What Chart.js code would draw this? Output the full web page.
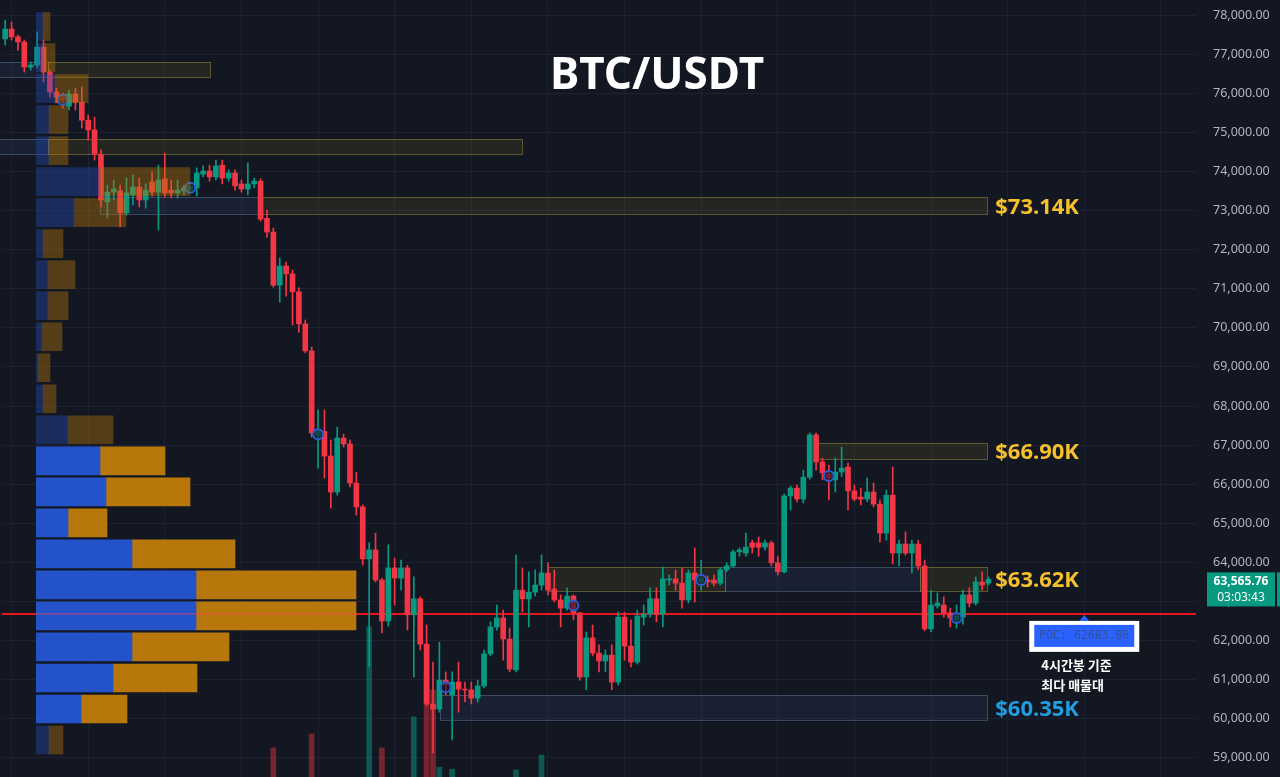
<!DOCTYPE html>
<html lang="ko">
<head>
<meta charset="UTF-8">
<title>BTC/USDT</title>
<script src="https://cdn.jsdelivr.net/npm/chart.js@4.4.0/dist/chart.umd.min.js"></script>
<style>
  html, body { margin: 0; padding: 0; background: #131722; }
  #wrap { position: relative; width: 1280px; height: 777px; overflow: hidden; }
  #main { position: absolute; left: 0; top: 0; }
  #profile { position: absolute; left: 36px; top: 0; pointer-events: none; }
</style>
</head>
<body>
<div id="wrap">
  <canvas id="main" width="1280" height="777"></canvas>
  <canvas id="profile" width="400" height="777"></canvas>
</div>
<script>
// 4h candles, oldest first
const candleOpen = [77390,77640,77440,77310,76670,76720,77180,76540,76030,75900,75670,75980,75770,75310,75060,74440,73220,73470,73500,72940,
  73400,73600,73270,73730,73470,73810,73520,73450,73500,73520,73580,73930,74010,73860,74160,73830,73960,73680,73550,73680,
  73750,72800,72450,71090,71580,71380,70920,70100,69410,67230,67350,66720,65800,67180,67030,66030,65420,64090,64320,63550,
  62500,63860,63600,63860,62660,63070,61910,60380,60250,60990,60610,60940,60760,60740,60530,60840,61660,62350,62580,62040,
  61250,63290,63070,63240,63420,63730,63320,63040,62830,63140,62710,61070,62070,61680,61480,61630,60940,62600,61860,61450,
  62600,62680,63070,62680,63550,63580,63470,63040,63730,63500,63550,63550,63470,63810,63910,64270,64240,64500,64500,64390,
  64500,63990,63760,65700,65900,65620,66180,67260,66570,66260,66110,66310,66440,65830,65670,65620,65800,65490,64750,65720,
  64240,64470,64240,64470,63910,62300,62890,62910,62710,62530,62600,63170,62960,63500,63470];
const candleHigh = [77870,77820,77490,77360,76800,77570,77360,76590,76130,76000,76080,76130,76160,75440,75390,74550,73650,73780,73650,73830,
  73910,73830,73680,73990,74160,74470,73780,73780,73650,73700,74090,74140,74160,74290,74290,74040,74040,73780,74220,73830,
  73810,73010,72550,71790,71680,71480,71020,70200,69510,67900,67900,67130,67460,67280,67130,66310,65470,64500,64750,63600,
  64450,64110,64060,63930,63630,63120,62400,61450,61960,61200,61200,61450,60940,60940,60990,61760,62480,62910,62780,62320,
  64190,63860,63760,63810,64190,63990,63810,63170,63350,63170,62720,62220,62400,61890,61760,61890,62730,62730,62530,62780,
  62910,63350,63350,63880,63680,63810,63860,63810,64370,64060,63650,63680,63860,63990,64320,64370,64750,64570,64650,64570,
  64550,64160,65750,65950,65980,66360,67310,67310,66670,66490,66670,66950,66540,65980,65900,66160,66030,65600,65850,66440,
  64570,64780,64570,64570,64060,63290,63220,63120,62830,62910,63290,63350,63630,63760,63630];
const candleLow = [77230,77360,77100,76540,76590,76650,76290,75900,75750,75620,75570,75570,75110,74800,74290,73090,72810,73270,72580,72880,
  73140,73090,73060,73370,72500,73340,73320,73320,73400,73470,73370,73860,73750,73780,73680,73750,73520,73470,73400,73580,
  72730,72320,71040,70660,70810,70070,69890,69360,67210,66410,66160,65390,65720,66950,65930,65210,63930,61330,63500,62200,
  62370,62910,63290,62270,61070,61760,60330,59130,60170,60610,59460,60170,60430,60380,60430,60790,61610,62270,61500,61200,
  61200,62730,62350,63140,63290,63170,62990,62350,62780,62530,60990,60740,61610,61200,61200,60740,60870,61500,61330,61400,
  62400,62600,62480,62350,63420,63290,62830,62960,62990,63290,63370,63400,63420,63760,63880,64160,64160,64240,64160,64320,
  63910,63680,63730,65340,65550,65520,66130,66360,66110,65600,65800,66200,65340,65570,65470,65550,65420,64520,64570,63960,
  63910,64190,63730,63810,62250,62220,62830,62600,62350,62320,62420,62860,62910,63290,63420];
const candleClose = [77640,77440,77310,76670,76720,77180,76540,76030,75900,75830,75980,75770,75310,75060,74440,73270,73470,73550,72940,73450,
  73600,73270,73520,73470,73780,73450,73450,73520,73580,73630,73960,74010,73860,74140,73830,73960,73630,73550,73680,73750,
  72780,72450,71090,71580,71380,70920,70100,69410,67310,67390,66720,65800,67180,67030,66030,65420,64090,64320,63550,62500,
  63860,63600,63860,62660,63070,61910,60380,60250,60990,60870,60940,60760,60740,60530,60840,61660,62350,62580,62040,61270,
  63290,63070,63240,63420,63730,63290,63040,62830,63140,62710,61070,62070,61680,61480,61630,60940,62600,61860,61450,62630,
  62680,63070,62680,63580,63580,63470,63040,63730,63550,63600,63500,63470,63810,63910,64270,64320,64390,64390,64390,64500,
  63990,63760,65700,65900,65620,66180,67260,66570,66290,66160,66310,66410,65830,65620,65620,65800,65490,64750,65720,64240,
  64470,64240,64470,63910,62300,62910,62960,62710,62580,62630,63170,62960,63500,63420,63565.76];

// only the volume bars that reach into the visible pane
const volumeIndex = [42, 48, 57, 59, 64, 66, 67, 68, 70, 80, 84];
const volumeValue = [560, 830, 2900, 560, 1160, 2010, 1680, 190, 150, 135, 425];

// swing pivot markers
const markerIndex = [9, 29, 49, 69, 89, 109, 129, 149];
const markerPrice = [75830, 73580, 67280, 60810, 62900, 63550, 66210, 62580];

// supply / demand zones (candle index range, price range)
const zoneFrom = [-1, 6.7, -1, 6.7, 14.8, 40.2, 126.8, 85.0, 112.7, 143.3, 68.1];
const zoneTo   = [6.7, 32.1, 6.7, 80.9, 40.2, 153.8, 153.8, 112.7, 143.3, 153.8, 153.8];
const zoneLow  = [76410, 76410, 74440, 74440, 72910, 72910, 66640, 63270, 63270, 63270, 59970];
const zoneHigh = [76800, 76800, 74830, 74830, 73340, 73340, 67050, 63880, 63880, 63880, 60610];
const zoneKind = ['demand','supply','demand','supply','demand','supply','supply','supply','demand','supply','demand'];

const labelZone  = [5, 6, 9, 10];
const labelText  = ['$73.14K', '$66.90K', '$63.62K', '$60.35K'];
const labelColor = ['#f5c02b', '#f5c02b', '#f5c02b', '#1f9de0'];

// volume profile rows
const profilePrice = [77706,76913,76119,75326,74532,73739,72946,72152,71359,70565,69772,68979,
  68185,67392,66598,65805,65011,64218,63425,62631,61838,61045,60251,59458];
const profileBuy  = [7,7,19,13,13,64,38,7,12,12,6,2,7,32,64,70,32,96,160,160,96,77,45,13];
const profileSell = [7,12,33,19,19,90,52,20,27,20,20,12,13,45,65,84,39,103,160,160,97,84,46,14];
const valueAreaLow = 59900, valueAreaHigh = 67000;

const pocPrice = 62683.86;
const pocIndex = 169;
const countdown = '03:03:43';

const yTicks = [59000,60000,61000,62000,63000,64000,65000,66000,67000,68000,69000,
  70000,71000,72000,73000,74000,75000,76000,77000,78000];
const yMin = 58512, yMax = 78384;
const totalSlots = 187;
const categories = [];
for (let i = 0; i < totalSlots; i++) categories.push(String(i + 1));

const up = '#089981', down = '#f23645';
const candleColors = candleClose.map((c, i) => c >= candleOpen[i] ? up : down);
const bodyData = candleOpen.map((o, i) => [o, candleClose[i]]);
const wickData = candleLow.map((l, i) => [l, candleHigh[i]]);

const volumeData = candleOpen.map(() => null);
const volumeColors = candleColors.map(c => c === up ? 'rgba(8,153,129,0.5)' : 'rgba(242,54,69,0.45)');
volumeIndex.forEach((idx, k) => { volumeData[idx] = volumeValue[k]; });

const markerData = candleOpen.map(() => null);
markerIndex.forEach((idx, k) => { markerData[idx] = markerPrice[k]; });

function fmt(v) {
  return v.toLocaleString('en-US', {minimumFractionDigits: 2, maximumFractionDigits: 2});
}

const overlay = {
  id: 'overlay',
  beforeDraw(chart) {
    const c = chart.ctx;
    c.save();
    c.fillStyle = '#131722';
    c.fillRect(0, 0, chart.width, chart.height);
    c.restore();
  },
  beforeDatasetsDraw(chart) {
    const c = chart.ctx, x = chart.scales.x, y = chart.scales.y, area = chart.chartArea;
    c.save();
    for (let i = 0; i < zoneLow.length; i++) {
      const x0 = x.getPixelForValue(zoneFrom[i]), x1 = x.getPixelForValue(zoneTo[i]);
      const y0 = y.getPixelForValue(zoneHigh[i]), y1 = y.getPixelForValue(zoneLow[i]);
      if (zoneKind[i] === 'supply') {
        c.fillStyle = 'rgba(110,100,30,0.2)';
        c.strokeStyle = 'rgba(140,130,60,0.6)';
      } else {
        c.fillStyle = 'rgba(60,90,140,0.14)';
        c.strokeStyle = 'rgba(100,120,150,0.5)';
      }
      c.fillRect(x0, y0, x1 - x0, y1 - y0);
      c.lineWidth = 1;
      c.strokeRect(Math.round(x0) + 0.5, Math.round(y0) + 0.5, Math.round(x1 - x0), Math.round(y1 - y0));
    }
    // POC line
    const py = y.getPixelForValue(pocPrice);
    c.strokeStyle = '#e8151f';
    c.lineWidth = 2;
    c.beginPath();
    c.moveTo(area.left, py);
    c.lineTo(area.right, py);
    c.stroke();
    c.restore();
  },
  afterDatasetsDraw(chart) {
    const c = chart.ctx, x = chart.scales.x, y = chart.scales.y;
    c.save();
    // zone price labels
    c.font = 'bold 22px "Noto Sans"';
    c.textAlign = 'left';
    c.textBaseline = 'middle';
    labelZone.forEach((z, k) => {
      const lx = x.getPixelForValue(zoneTo[z]) + 8;
      const ly = y.getPixelForValue((zoneLow[z] + zoneHigh[z]) / 2) + 2;
      c.fillStyle = labelColor[k];
      c.fillText(labelText[k], lx, ly);
    });
    // title
    c.fillStyle = '#ffffff';
    c.font = 'bold 44px "Noto Sans"';
    c.textAlign = 'center';
    c.fillText('BTC/USDT', 657, 76);

    // POC callout
    const cx = x.getPixelForValue(pocIndex);
    const py = y.getPixelForValue(pocPrice);
    c.fillStyle = '#ffffff';
    c.fillRect(cx - 55, py + 7, 110, 31);
    c.fillStyle = '#2962ff';
    c.fillRect(cx - 50, py + 11, 100, 22);
    c.beginPath();
    c.moveTo(cx, py + 1);
    c.lineTo(cx - 5, py + 7);
    c.lineTo(cx + 5, py + 7);
    c.closePath();
    c.fill();
    c.fillStyle = '#3a4f8c';
    c.font = '11.5px "DejaVu Sans Mono"';
    c.fillText('POC: ' + pocPrice.toFixed(2), cx, py + 22);
    c.fillStyle = '#ffffff';
    c.font = 'bold 13px "Noto Sans CJK KR"';
    c.textAlign = 'left';
    c.fillText('4시간봉 기준', cx - 43, py + 51);
    c.fillText('최다 매물대', cx - 43, py + 71);
    c.restore();
  },
  afterDraw(chart) {
    const c = chart.ctx, y = chart.scales.y, area = chart.chartArea;
    const last = candleClose[candleClose.length - 1];
    const py = y.getPixelForValue(last);
    const bx = area.right + 11;
    c.save();
    c.fillStyle = up;
    c.fillRect(bx, py - 7, 68, 34);
    c.fillRect(bx + 70, py - 7, 4, 34);
    c.fillStyle = '#ffffff';
    c.textAlign = 'center';
    c.textBaseline = 'middle';
    c.font = 'bold 12px "Noto Sans"';
    c.fillText(fmt(last), bx + 34, py + 2);
    c.font = '12px "Noto Sans"';
    c.fillText(countdown, bx + 34, py + 18);
    c.restore();
  }
};

new Chart(document.getElementById('main'), {
  type: 'bar',
  data: {
    labels: categories,
    datasets: [
      { type: 'line', data: markerData, showLine: false, pointRadius: 5, pointBorderWidth: 2,
        pointBorderColor: '#2a5bd7', pointBackgroundColor: 'rgba(19,23,34,0.6)', order: 0 },
      { data: bodyData, backgroundColor: candleColors, barThickness: 5, grouped: false, order: 1 },
      { data: wickData, backgroundColor: candleColors, barThickness: 1, grouped: false, order: 2 },
      { data: volumeData, yAxisID: 'y2', backgroundColor: volumeColors, barThickness: 5, grouped: false, order: 5 }
    ]
  },
  options: {
    responsive: false,
    animation: false,
    devicePixelRatio: 1,
    layout: { autoPadding: false, padding: { left: 2, right: 0, top: 0, bottom: 0 } },
    plugins: { legend: { display: false }, tooltip: { enabled: false } },
    scales: {
      x: {
        offset: true,
        grid: { offset: false, drawTicks: false, color: ctx => ctx.index % 12 === 1 ? '#1d2130' : 'rgba(0,0,0,0)' },
        border: { display: false },
        ticks: { display: false, autoSkip: false },
        afterFit: s => { s.height = 0; s.paddingLeft = 0; s.paddingRight = 0; }
      },
      y: {
        position: 'right',
        min: yMin,
        max: yMax,
        grid: { color: '#1d2130', drawTicks: false },
        border: { display: false },
        afterBuildTicks: s => { s.ticks = yTicks.map(v => ({ value: v })); },
        ticks: {
          padding: 17,
          color: '#b2b5be',
          font: { family: 'Noto Sans', size: 12.5 },
          callback: v => fmt(v)
        },
        afterFit: s => { s.width = 84; s.paddingTop = 0; s.paddingBottom = 0; }
      },
      y2: { display: false, min: 0, max: 15000 }
    }
  },
  plugins: [overlay]
});

// volume profile drawn on its own chart over the left side
const inVA = profilePrice.map(p => p >= valueAreaLow && p <= valueAreaHigh);
const pocLine = {
  id: 'pocLine',
  afterDatasetsDraw(chart) {
    const c = chart.ctx, x = chart.scales.x, y = chart.scales.y;
    let best = 0;
    profilePrice.forEach((p, i) => { if (Math.abs(p - pocPrice) < Math.abs(profilePrice[best] - pocPrice)) best = i; });
    const py = y.getPixelForValue(pocPrice);
    c.save();
    c.strokeStyle = 'rgba(242,70,90,0.75)';
    c.lineWidth = 1;
    c.beginPath();
    c.moveTo(x.getPixelForValue(0), py);
    c.lineTo(x.getPixelForValue(profileBuy[best] + profileSell[best]), py);
    c.stroke();
    c.restore();
  }
};

new Chart(document.getElementById('profile'), {
  type: 'bar',
  data: {
    datasets: [
      { data: profilePrice.map((p, i) => ({ x: profileBuy[i], y: p })),
        backgroundColor: inVA.map(v => v ? '#2453c9' : 'rgba(36,83,201,0.35)'),
        barThickness: 28, grouped: false },
      { data: profilePrice.map((p, i) => ({ x: profileSell[i], y: p })),
        backgroundColor: inVA.map(v => v ? '#b8770b' : 'rgba(184,119,11,0.4)'),
        barThickness: 28, grouped: false }
    ]
  },
  options: {
    indexAxis: 'y',
    responsive: false,
    animation: false,
    devicePixelRatio: 1,
    layout: { autoPadding: false, padding: 0 },
    plugins: { legend: { display: false }, tooltip: { enabled: false } },
    scales: {
      x: { type: 'linear', min: 0, max: 400, stacked: true, display: false },
      y: { type: 'linear', min: yMin, max: yMax, offset: false, display: false }
    }
  },
  plugins: [pocLine]
});
</script>
</body>
</html>
